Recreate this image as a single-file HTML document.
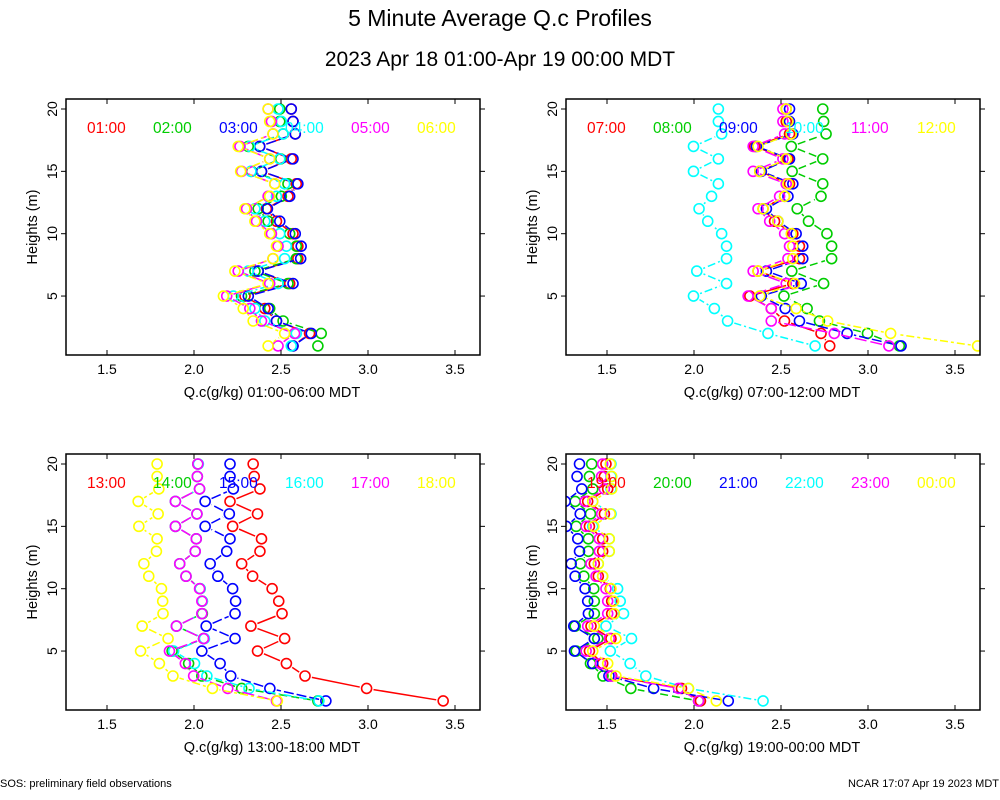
<!DOCTYPE html>
<html><head><meta charset="utf-8">
<style>
body{margin:0;background:#fff;}
svg{display:block;font-family:"Liberation Sans",sans-serif;}
</style></head>
<body>
<svg id="chart" width="1000" height="800" viewBox="0 0 1000 800" xmlns="http://www.w3.org/2000/svg">
<rect width="1000" height="800" fill="#fff"/>
<text x="500" y="26" font-size="23" text-anchor="middle">5 Minute Average Q.c Profiles</text>
<text x="500" y="66" font-size="21" text-anchor="middle">2023 Apr 18 01:00-Apr 19 00:00 MDT</text>
<text x="0" y="787" font-size="11">SOS: preliminary field observations</text>
<text x="999" y="787" font-size="11" text-anchor="end">NCAR 17:07 Apr 19 2023 MDT</text>
</svg>
<script>
const heights=[1,2,3,4,5,6,7,8,9,10,11,12,13,14,15,16,17,18,19,20];
const xTicks=[1.5,2.0,2.5,3.0,3.5];
const xTickLabels=["1.5","2.0","2.5","3.0","3.5"];
const yTicks=[5,10,15,20];
const colors=["#ff0000","#00cd00","#0000ff","#00ffff","#ff00ff","#ffff00"];
const dashes=["none","8,4","10,3","2,3,8,3","12,4","3,3,8,3"];

const p1Labels=["01:00","02:00","03:00","04:00","05:00","06:00"];
const p1Red=[2.569,2.664,2.474,2.407,2.293,2.550,2.369,2.597,2.597,2.569,2.474,2.416,2.540,2.588,2.388,2.559,2.378,2.582,2.569,2.559];
const p1Green=[2.712,2.731,2.512,2.435,2.273,2.540,2.350,2.588,2.588,2.550,2.426,2.369,2.502,2.540,2.331,2.498,2.312,2.512,2.493,2.493];
const p1Blue=[2.569,2.674,2.474,2.426,2.312,2.569,2.369,2.613,2.616,2.582,2.493,2.422,2.550,2.597,2.388,2.569,2.378,2.582,2.569,2.559];
const p1Cyan=[2.559,2.588,2.407,2.350,2.226,2.483,2.312,2.521,2.531,2.493,2.407,2.350,2.474,2.521,2.327,2.493,2.321,2.512,2.502,2.483];
const p1Magenta=[2.483,2.578,2.388,2.321,2.188,2.435,2.254,2.454,2.483,2.445,2.359,2.302,2.426,2.464,2.273,2.435,2.264,2.454,2.445,2.426];
const p1Yellow=[2.426,2.521,2.340,2.283,2.169,2.426,2.235,2.454,2.474,2.435,2.350,2.293,2.435,2.464,2.268,2.435,2.254,2.454,2.435,2.426];

const p2Labels=["07:00","08:00","09:00","10:00","11:00","12:00"];
const p2Red=[2.78,2.73,2.52,2.444,2.321,2.568,2.368,2.606,2.606,2.568,2.463,2.397,2.521,2.549,2.378,2.540,2.349,2.549,2.530,2.530];
const p2Green=[3.18,2.997,2.721,2.650,2.517,2.745,2.562,2.791,2.791,2.764,2.658,2.593,2.730,2.740,2.564,2.740,2.559,2.759,2.745,2.740];
const p2Blue=[3.19,2.88,2.606,2.524,2.387,2.616,2.416,2.625,2.625,2.587,2.482,2.416,2.540,2.568,2.387,2.549,2.359,2.568,2.549,2.549];
const p2Cyan=[2.696,2.425,2.193,2.117,1.997,2.187,2.016,2.187,2.187,2.159,2.079,2.029,2.101,2.140,1.997,2.140,1.997,2.159,2.140,2.140];
const p2Magenta=[3.12,2.806,2.444,2.444,2.311,2.530,2.340,2.540,2.549,2.521,2.435,2.368,2.492,2.530,2.340,2.511,2.340,2.521,2.511,2.511];
const p2Yellow=[3.63,3.13,2.768,2.587,2.378,2.578,2.368,2.568,2.568,2.559,2.482,2.397,2.521,2.540,2.378,2.530,2.368,2.559,2.540,2.530];

const p3Labels=["13:00","14:00","15:00","16:00","17:00","18:00"];
const p3Red=[3.432,2.992,2.638,2.531,2.365,2.521,2.327,2.506,2.487,2.449,2.337,2.274,2.379,2.388,2.222,2.365,2.207,2.379,2.346,2.340];
const p3Green=[2.712,2.274,2.045,1.969,1.874,2.055,1.899,2.048,2.048,2.035,1.954,1.918,2.007,2.013,1.893,2.017,1.893,2.032,2.019,2.022];
const p3Blue=[2.758,2.436,2.211,2.150,2.045,2.236,2.070,2.236,2.239,2.222,2.137,2.093,2.188,2.207,2.064,2.203,2.064,2.226,2.207,2.207];
const p3Cyan=[2.718,2.316,2.074,2.003,1.883,2.060,1.899,2.045,2.048,2.035,1.954,1.918,2.007,2.013,1.893,2.017,1.893,2.032,2.019,2.025];
const p3Magenta=[2.474,2.194,1.998,1.950,1.859,2.055,1.899,2.045,2.045,2.032,1.954,1.918,2.007,2.013,1.893,2.017,1.893,2.032,2.019,2.022];
const p3Yellow=[2.479,2.106,1.879,1.801,1.693,1.851,1.702,1.822,1.820,1.813,1.740,1.712,1.784,1.788,1.683,1.794,1.679,1.798,1.788,1.788];

const p4Labels=["19:00","20:00","21:00","22:00","23:00","00:00"];
const p4Red=[2.037,1.928,1.527,1.475,1.399,1.523,1.408,1.527,1.527,1.519,1.450,1.427,1.475,1.475,1.399,1.485,1.389,1.504,1.485,1.494];
const p4Green=[2.026,1.637,1.477,1.405,1.323,1.447,1.317,1.427,1.427,1.424,1.367,1.347,1.393,1.393,1.323,1.405,1.317,1.418,1.399,1.412];
const p4Blue=[2.197,1.768,1.511,1.418,1.313,1.427,1.309,1.393,1.389,1.374,1.317,1.294,1.342,1.332,1.266,1.346,1.260,1.355,1.328,1.342];
const p4Cyan=[2.397,1.968,1.723,1.633,1.519,1.641,1.494,1.595,1.576,1.561,1.475,1.450,1.513,1.513,1.418,1.523,1.418,1.523,1.523,1.523];
const p4Magenta=[2.026,1.911,1.523,1.462,1.380,1.513,1.389,1.504,1.504,1.494,1.437,1.408,1.456,1.456,1.380,1.469,1.374,1.485,1.469,1.475];
const p4Yellow=[2.128,1.968,1.551,1.504,1.418,1.551,1.427,1.542,1.538,1.523,1.475,1.450,1.513,1.513,1.424,1.519,1.418,1.527,1.527,1.519];

const panels=[
 {ox:0,oy:0,labels:p1Labels,series:[p1Red,p1Green,p1Blue,p1Cyan,p1Magenta,p1Yellow],xl:"Q.c(g/kg) 01:00-06:00 MDT",name:"panel-01-06"},
 {ox:500,oy:0,labels:p2Labels,series:[p2Red,p2Green,p2Blue,p2Cyan,p2Magenta,p2Yellow],xl:"Q.c(g/kg) 07:00-12:00 MDT",name:"panel-07-12"},
 {ox:0,oy:355,labels:p3Labels,series:[p3Red,p3Green,p3Blue,p3Cyan,p3Magenta,p3Yellow],xl:"Q.c(g/kg) 13:00-18:00 MDT",name:"panel-13-18"},
 {ox:500,oy:355,labels:p4Labels,series:[p4Red,p4Green,p4Blue,p4Cyan,p4Magenta,p4Yellow],xl:"Q.c(g/kg) 19:00-00:00 MDT",name:"panel-19-00"}
];
const NS="http://www.w3.org/2000/svg";
const svg=document.getElementById('chart');
function mk(tag,attrs,parent){const e=document.createElementNS(NS,tag);for(const k in attrs)e.setAttribute(k,attrs[k]);parent.appendChild(e);return e;}
const L=66,R=480,T=99,B=355,R0=5;
panels.forEach(p=>{
  const g=mk('g',{},svg);
  
  
  const xs=v=>p.ox+107+(v-1.5)*174;
  const ys=h=>p.oy+109-(h-20)*12.47;
  const clipId='c'+p.name;
  const cp=mk('clipPath',{id:clipId},g);
  mk('rect',{x:p.ox+L,y:p.oy+T,width:R-L,height:B-T},cp);
  const data=mk('g',{'clip-path':'url(#'+clipId+')'},g);
  p.series.forEach((vals,si)=>{
    const sg=mk('g',{},data);
    
    
    for(let i=0;i<vals.length-1;i++){
      const x1=xs(vals[i]),y1=ys(heights[i]),x2=xs(vals[i+1]),y2=ys(heights[i+1]);
      const dx=x2-x1,dy=y2-y1,d=Math.hypot(dx,dy),g0=R0+2;
      if(d>2*g0){const ux=dx/d,uy=dy/d;
        const ln=mk('line',{x1:x1+ux*g0,y1:y1+uy*g0,x2:x2-ux*g0,y2:y2-uy*g0,stroke:colors[si],'stroke-width':1.5,'stroke-dasharray':dashes[si]},sg);
        
        }
    }
    vals.forEach((v,i)=>{
      const c=mk('circle',{cx:xs(v),cy:ys(heights[i]),r:R0,fill:'none',stroke:colors[si],'stroke-width':1.6},sg);
      
      
    });
  });
  p.labels.forEach((lb,si)=>{
    const t=mk('text',{x:p.ox+87+si*66,y:p.oy+133,'font-size':15.5,fill:colors[si]},g);
    t.textContent=lb;
    
    
  });
  const fr=mk('rect',{x:p.ox+L,y:p.oy+T,width:R-L,height:B-T,fill:'none',stroke:'#000','stroke-width':1.5},g);
  
  
  xTicks.forEach((v,i)=>{
    const x=xs(v);
    mk('line',{x1:x,y1:p.oy+B,x2:x,y2:p.oy+B-5,stroke:'#000'},g);
    mk('line',{x1:x,y1:p.oy+T,x2:x,y2:p.oy+T+5,stroke:'#000'},g);
    const t=mk('text',{x:x,y:p.oy+B+19,'font-size':14,'text-anchor':'middle'},g);
    t.textContent=xTickLabels[i];
    
    
  });
  yTicks.forEach(v=>{
    const y=ys(v);
    mk('line',{x1:p.ox+L,y1:y,x2:p.ox+L-5,y2:y,stroke:'#000'},g);
    mk('line',{x1:p.ox+R,y1:y,x2:p.ox+R+5,y2:y,stroke:'#000'},g);
    const t=mk('text',{x:p.ox+L-9,y:y,'font-size':14,'text-anchor':'middle',transform:`rotate(-90 ${p.ox+L-9} ${y})`},g);
    t.textContent=String(v);
    
    
  });
  const xl=mk('text',{x:p.ox+272,y:p.oy+397,'font-size':14.5,'text-anchor':'middle'},g);
  xl.textContent=p.xl;
  
  
  const yl=mk('text',{x:p.ox+37,y:p.oy+227,'font-size':14.5,'text-anchor':'middle',transform:`rotate(-90 ${p.ox+37} ${p.oy+227})`},g);
  yl.textContent='Heights (m)';
  
  
});
</script>
</body></html>
